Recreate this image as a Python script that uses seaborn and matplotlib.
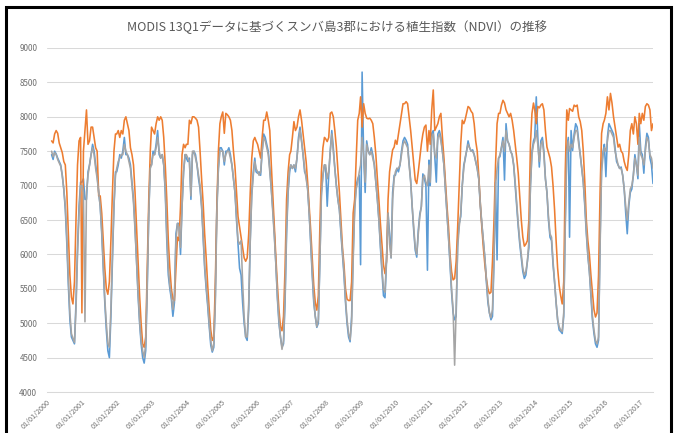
import datetime as dt

import matplotlib

matplotlib.use("Agg")
import matplotlib.dates as mdates
import matplotlib.pyplot as plt
import pandas as pd
import seaborn as sns
from matplotlib.patches import Rectangle

# MODIS 13Q1 16-day composites: first composite 2000 #3 (DOY 49), last 2017 #9 (DOY 145)
FIRST_YEAR, FIRST_INDEX = 2000, 3
LAST_YEAR, LAST_INDEX = 2017, 9

AREAS = ["郡1", "郡2", "郡3"]
COLORS = ["#5B9BD5", "#ED7D31", "#A5A5A5"]

# values, one row per year
ndvi_blue = [
    7450, 7380, 7500, 7460, 7400, 7350, 7300, 7150, 6950, 6650, 6150, 5550, 5050, 4800, 4750, 4700, 5300, 6100, 6700, 7050,
    7050, 7100, 6800, 6800, 7200, 7300, 7450, 7600, 7500, 7300, 7150, 6900, 6700, 6300, 5800, 5300, 4900, 4600, 4500, 5100, 5900, 6700, 7200,
    7200, 7300, 7450, 7400, 7500, 7700, 7450, 7450, 7400, 7300, 7050, 6800, 6400, 5900, 5400, 5000, 4700, 4500, 4420, 4600, 5500, 6600, 7300,
    7300, 7500, 7450, 7600, 7800, 7450, 7400, 7450, 7300, 6900, 6200, 5700, 5500, 5350, 5100, 5300, 6300, 6450, 6450, 6000, 6700, 7200, 7450,
    7400, 7350, 7400, 6800, 7450, 7500, 7450, 7300, 7100, 6950, 6700, 6250, 5800, 5500, 5250, 4950, 4680, 4580, 4650, 5400, 6700, 7250, 7550,
    7550, 7500, 7300, 7500, 7500, 7550, 7450, 7300, 7100, 6900, 6500, 6150, 5800, 5700, 5300, 5000, 4800, 4750, 5200, 6200, 6900, 7200, 7400,
    7200, 7180, 7200, 7150, 7500, 7750, 7700, 7600, 7500, 7250, 6950, 6650, 6300, 5850, 5350, 5000, 4800, 4650, 4700, 5300, 6300, 6900, 7200,
    7300, 7250, 7300, 7200, 7400, 7700, 7850, 7650, 7450, 7200, 7150, 6950, 6600, 6150, 5700, 5300, 5100, 4940, 5000, 5900, 6900, 7150, 7300,
    7250, 6700, 7150, 7500, 7800, 7550, 7250, 7000, 6800, 6650, 6300, 6000, 5700, 5300, 5000, 4800, 4730, 5100, 6000, 6700, 7000, 7100, 7150,
    5850, 8650, 7450, 6900, 7650, 7500, 7450, 7550, 7450, 7300, 7050, 6800, 6500, 6100, 5750, 5400, 5370, 5900, 6600, 6300, 5950, 6900, 7150,
    7150, 7250, 7200, 7300, 7500, 7650, 7700, 7660, 7600, 7320, 7080, 6690, 6350, 6060, 5960, 6350, 6590, 6690, 7170, 7100, 7000, 5770, 7370,
    7000, 7760, 7800, 7420, 7050, 7750, 7800, 7700, 7500, 7300, 6930, 6590, 6250, 5850, 5450, 5150, 5050, 5100, 6200, 6450, 6550, 7000, 7300,
    7370, 7500, 7650, 7550, 7500, 7520, 7450, 7350, 7250, 7100, 6700, 6450, 6200, 5950, 5600, 5300, 5150, 5050, 5100, 5900, 7050, 5920, 7400,
    7420, 7560, 7700, 7080, 7900, 7650, 7600, 7500, 7450, 7300, 7000, 6700, 6400, 6150, 5950, 5750, 5650, 5700, 5900, 6100, 7000, 7500, 7650,
    7700, 8290, 7710, 7270, 7650, 7700, 7500, 7100, 6900, 6500, 6250, 6200, 5850, 5600, 5300, 5050, 4900, 4880, 4850, 5100, 6500, 7550, 7700,
    6250, 7800, 7510, 7750, 7900, 7850, 7650, 7450, 7250, 7050, 6700, 6300, 5980, 5750, 5400, 5050, 4850, 4700, 4650, 4750, 6200, 7300, 7500,
    7600, 7130, 7700, 7900, 7850, 7800, 7750, 7550, 7350, 7300, 7250, 7270, 7150, 6950, 6600, 6300, 6700, 6900, 6950, 7150, 7450, 7300, 7100,
    7900, 7500, 7450, 7180, 7560, 7760, 7700, 7400, 7300, 7030,
]

ndvi_orange = [
    7650, 7620, 7750, 7800, 7760, 7620, 7550, 7480, 7350, 7300, 6900, 6300, 5700, 5380, 5280, 5600, 6500, 7300, 7650, 7700,
    5150, 7500, 7800, 8100, 7600, 7650, 7850, 7850, 7700, 7550, 7500, 6850, 6850, 6600, 6200, 5800, 5500, 5420, 5600, 6200, 6900, 7500, 7750,
    7750, 7800, 7700, 7800, 7750, 7950, 8000, 7900, 7800, 7550, 7450, 7300, 6900, 6400, 5900, 5400, 5000, 4700, 4650, 4800, 5800, 6800, 7500,
    7850, 7800, 7750, 7900, 8000, 7950, 8000, 7950, 7700, 7300, 6800, 6200, 5800, 5500, 5350, 5330, 5800, 6250, 6200, 6700, 7450, 7600, 7550,
    7600, 7600, 7950, 7900, 8000, 8000, 7980, 7950, 7850, 7500, 7100, 6750, 6300, 5950, 5550, 5200, 4900, 4750, 4800, 5600, 6700, 7500, 7900,
    8000, 8070, 7760, 8050, 8030, 8000, 7950, 7800, 7500, 7270, 6900, 6550, 6400, 6250, 6100, 5950, 5900, 5950, 6300, 6900, 7400, 7650, 7700,
    7650, 7600, 7500, 7400, 7700, 7950, 7950, 8070, 7950, 7800, 7300, 6850, 6400, 5950, 5550, 5200, 4950, 4890, 5100, 5800, 6800, 7200, 7450,
    7500, 7700, 7930, 7800, 7850, 8000, 8100, 7950, 7750, 7560, 7350, 7050, 6700, 6350, 5950, 5550, 5300, 5190, 5400, 6400, 7200, 7550, 7700,
    7680, 7640, 7700, 8050, 8070, 8000, 7800, 7560, 7230, 6900, 6500, 6100, 5850, 5500, 5350, 5330, 5330, 5600, 6600, 6800, 7400, 7950, 8050,
    8290, 7850, 8190, 8050, 7980, 7970, 7980, 7950, 7900, 7700, 7450, 7100, 6790, 6450, 6150, 5850, 5720, 5900, 6800, 7200, 7370, 7520, 7560,
    7660, 7600, 7750, 7900, 8050, 8190, 8190, 8220, 8190, 8000, 7800, 7560, 7320, 7080, 7030, 7200, 7400, 7600, 7750, 7850, 7880, 7500, 7800,
    7600, 8100, 8390, 7800, 7850, 7900, 8000, 8050, 7700, 7400, 7050, 6700, 6400, 6000, 5750, 5630, 5650, 5900, 6400, 7000, 7600, 7950, 7900,
    7950, 8050, 8150, 8130, 8080, 8050, 7900, 7650, 7500, 7150, 6750, 6400, 6100, 5850, 5650, 5500, 5430, 5450, 5900, 6500, 7300, 7900, 8050,
    8050, 8170, 8240, 8200, 8100, 8050, 8000, 8050, 7950, 7800, 7600, 7400, 7180, 6850, 6500, 6250, 6120, 6150, 6200, 6500, 7600, 8050, 8200,
    8100, 7900, 8150, 8130, 8170, 8190, 8100, 7800, 7560, 7480, 7400, 7270, 7000, 6650, 6200, 5800, 5550, 5400, 5280, 5600, 7200, 8100, 7950,
    8120, 8100, 8080, 8170, 8150, 8170, 8000, 7930, 7800, 7500, 7050, 6500, 6200, 6000, 5700, 5450, 5200, 5090, 5150, 5700, 6900, 7760, 7900,
    7950, 8050, 8290, 8100, 8340, 8200, 8000, 7850, 7700, 7560, 7600, 7500, 7470, 7350, 7270, 7220, 7450, 7800, 7900, 7750, 8000, 7900, 7600,
    8050, 7900, 8050, 7950, 8150, 8190, 8170, 8100, 7800, 7900,
]

ndvi_gray = [
    7500, 7420, 7480, 7450, 7380, 7330, 7280, 7150, 6950, 6700, 6250, 5650, 5150, 4850, 4780, 4720, 5200, 6000, 6600, 7000,
    7000, 6900, 5020, 6900, 7150, 7300, 7450, 7550, 7450, 7250, 7100, 6900, 6700, 6350, 5850, 5350, 5000, 4700, 4650, 5200, 6000, 6700, 7150,
    7250, 7350, 7400, 7450, 7450, 7600, 7500, 7450, 7350, 7250, 7000, 6750, 6350, 5900, 5450, 5050, 4750, 4600, 4500, 4700, 5600, 6600, 7250,
    7300, 7450, 7450, 7550, 7700, 7500, 7400, 7450, 7300, 6950, 6300, 5800, 5550, 5400, 5200, 5400, 6200, 6450, 6400, 6100, 6700, 7200, 7450,
    7450, 7400, 7350, 6850, 7500, 7500, 7400, 7300, 7150, 7000, 6700, 6300, 5850, 5550, 5300, 5000, 4750, 4600, 4700, 5300, 6600, 7250, 7500,
    7500, 7500, 7350, 7450, 7500, 7500, 7400, 7300, 7100, 6900, 6550, 6200, 6150, 6200, 5600, 5100, 4800, 4800, 5300, 6200, 6850, 7150, 7350,
    7250, 7200, 7150, 7200, 7500, 7700, 7650, 7550, 7450, 7200, 6950, 6600, 6250, 5850, 5400, 5050, 4800, 4620, 4750, 5400, 6400, 6950, 7250,
    7300, 7250, 7300, 7250, 7400, 7650, 7800, 7650, 7450, 7250, 7100, 6950, 6600, 6200, 5750, 5350, 5100, 4950, 5050, 5900, 6850, 7150, 7300,
    7300, 7100, 7200, 7500, 7750, 7500, 7250, 7000, 6800, 6650, 6350, 6050, 5750, 5350, 5050, 4850, 4760, 5000, 5900, 6650, 6950, 7050, 7200,
    7300, 7700, 7450, 7050, 7600, 7500, 7450, 7500, 7400, 7300, 7050, 6800, 6500, 6150, 5800, 5500, 5450, 5950, 6600, 6150, 5950, 6800, 7100,
    7200, 7250, 7250, 7300, 7450, 7600, 7650, 7600, 7550, 7300, 7050, 6700, 6400, 6100, 6000, 6300, 6550, 6700, 7100, 7150, 7050, 7000, 7300,
    7050, 7700, 7750, 7450, 7400, 7700, 7750, 7650, 7500, 7300, 6950, 6600, 6250, 5900, 5500, 5200, 4390, 5200, 6100, 6400, 6600, 7000, 7250,
    7400, 7500, 7600, 7550, 7500, 7500, 7450, 7350, 7250, 7100, 6750, 6450, 6200, 5950, 5650, 5350, 5150, 5080, 5200, 6000, 7000, 7250, 7400,
    7450, 7550, 7650, 7500, 7800, 7650, 7600, 7500, 7450, 7300, 7050, 6750, 6450, 6200, 6000, 5800, 5700, 5750, 5900, 6200, 7000, 7450, 7600,
    7650, 7800, 7600, 7350, 7600, 7650, 7450, 7100, 6900, 6550, 6300, 6250, 5900, 5600, 5300, 5050, 4950, 4900, 4880, 5150, 6400, 7450, 7650,
    7500, 7600, 7550, 7700, 7800, 7800, 7600, 7450, 7250, 7050, 6750, 6350, 6000, 5750, 5450, 5100, 4900, 4750, 4700, 4800, 6100, 7200, 7450,
    7550, 7500, 7650, 7800, 7800, 7750, 7700, 7500, 7400, 7300, 7250, 7250, 7150, 6950, 6700, 6500, 6750, 6950, 7000, 7150, 7400, 7300, 7150,
    7700, 7450, 7400, 7300, 7500, 7700, 7650, 7450, 7400, 7250,
]

TITLE = "MODIS 13Q1データに基づくスンバ島3郡における植生指数（NDVI）の推移"
Y_TICKS = list(range(4000, 9001, 500))
X_TICK_YEARS = list(range(2000, 2018))


def composite_dates():
    """Start dates of the 16-day composites covered by the chart."""
    dates = []
    for year in range(FIRST_YEAR, LAST_YEAR + 1):
        start = FIRST_INDEX if year == FIRST_YEAR else 0
        stop = LAST_INDEX if year == LAST_YEAR else 22
        for i in range(start, stop + 1):
            dates.append(dt.datetime(year, 1, 1) + dt.timedelta(days=16 * i))
    return dates


dates = composite_dates()
for series in (ndvi_blue, ndvi_orange, ndvi_gray):
    assert len(series) == len(dates), (len(series), len(dates))

df = pd.concat(
    [
        pd.DataFrame({"date": dates, "ndvi": values, "area": name})
        for name, values in zip(AREAS, [ndvi_blue, ndvi_orange, ndvi_gray])
    ],
    ignore_index=True,
)

sns.set_style("white")
plt.rcParams["font.family"] = ["Noto Sans CJK JP", "DejaVu Sans"]

fig = plt.figure(figsize=(6.74, 4.33), dpi=100)
ax = fig.add_axes([47 / 674, 1 - 392 / 433, (653 - 47) / 674, (392 - 48) / 433])

sns.lineplot(
    data=df,
    x="date",
    y="ndvi",
    hue="area",
    hue_order=AREAS,
    palette=COLORS,
    linewidth=1.15,
    legend=False,
    ax=ax,
)

ax.set_ylim(4000, 9000)
ax.set_xlim(dt.datetime(2000, 1, 1), dates[-1])
ax.set_yticks(Y_TICKS)
ax.set_xticks([dt.datetime(y, 1, 1) for y in X_TICK_YEARS])
ax.xaxis.set_major_formatter(mdates.DateFormatter("%m/%d/%Y"))
ax.set_xlabel("")
ax.set_ylabel("")

ax.grid(axis="y", color="#D9D9D9", linewidth=0.75)
ax.set_axisbelow(True)
for side in ("top", "right", "left"):
    ax.spines[side].set_visible(False)
ax.spines["bottom"].set_color("#D9D9D9")
ax.spines["bottom"].set_linewidth(0.75)

ax.tick_params(axis="y", length=0, pad=7, labelsize=5.8, labelcolor="#6F6F6F")
ax.tick_params(axis="x", length=3, width=0.75, color="#D9D9D9", pad=1.5,
               labelsize=5.2, labelcolor="#6F6F6F")
for label in ax.get_xticklabels():
    label.set_rotation(45)
    label.set_ha("right")
    label.set_rotation_mode("anchor")

fig.text(0.5, 1 - 27 / 433, TITLE, ha="center", va="center", fontsize=9, color="#595959")

fig.add_artist(
    Rectangle(
        (6 / 674, -0.1),
        (671 - 6) / 674,
        1.1 - 7 / 433,
        transform=fig.transFigure,
        fill=False,
        edgecolor="black",
        linewidth=2.2,
    )
)

fig.savefig("out.png", dpi=100)
plt.close(fig)
